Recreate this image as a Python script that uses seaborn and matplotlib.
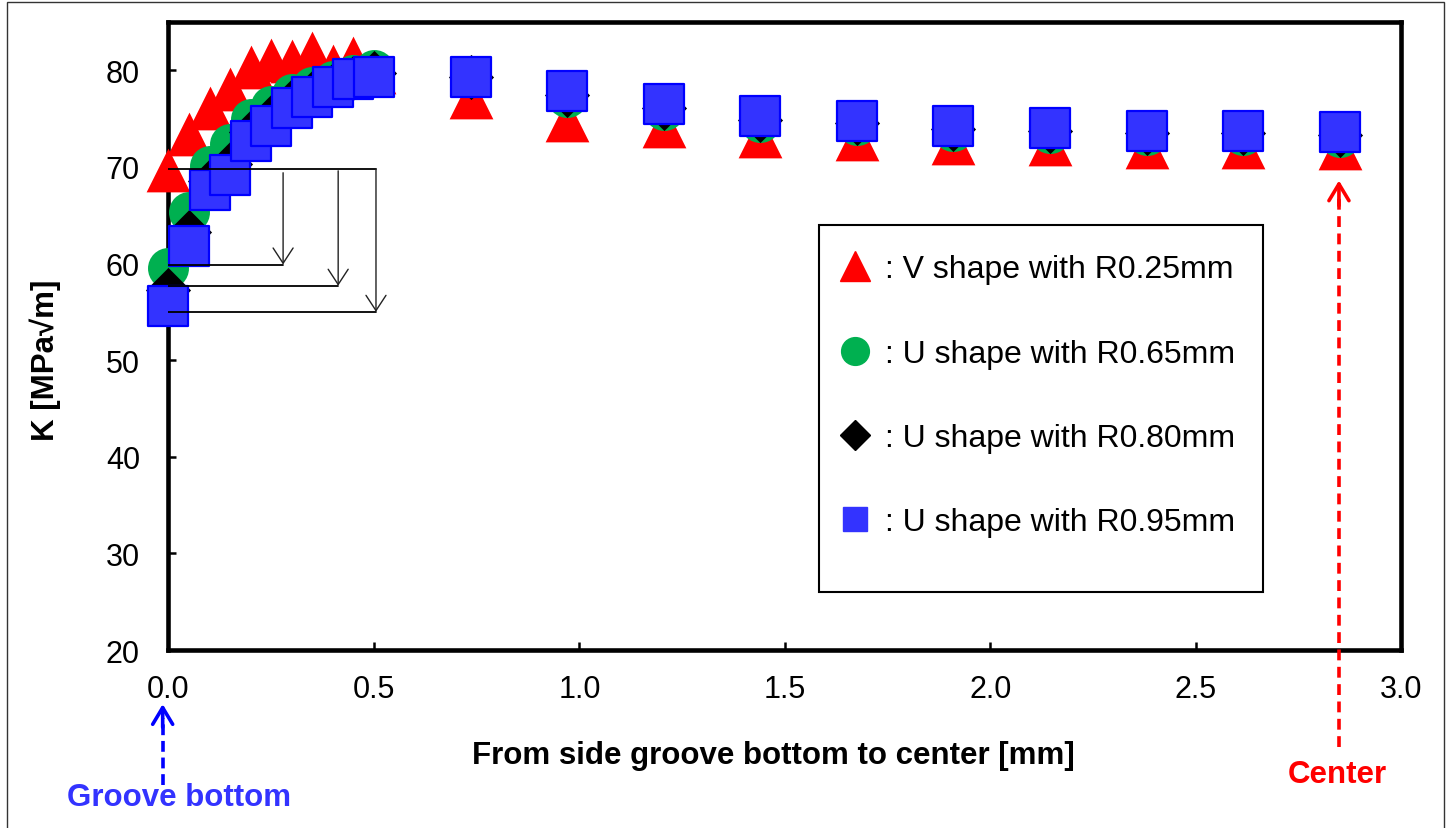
import numpy as np
import matplotlib
matplotlib.use("Agg")
import matplotlib.pyplot as plt
import seaborn as sns
from matplotlib.lines import Line2D
from matplotlib.patches import Rectangle

sns.set_theme(style="ticks", rc={
    "text.color": "black", "axes.labelcolor": "black",
    "xtick.color": "black", "ytick.color": "black",
    "axes.edgecolor": "black",
})
plt.rcParams["font.family"] = ["Liberation Sans", "DejaVu Sans"]

# distance from the side-groove bottom toward the specimen center [mm]
x_near = [0.00, 0.05, 0.10, 0.15, 0.20, 0.25, 0.30, 0.35, 0.40, 0.45, 0.50]
x_far = [0.735, 0.970, 1.205, 1.440, 1.675, 1.910, 2.145, 2.380, 2.615, 2.850]
distance = x_near + x_far

# stress intensity factor K [MPa*sqrt(m)] for each groove geometry
k_v025 = [69.7, 73.4, 76.1, 78.1, 80.3, 81.1, 81.0, 81.8, 80.5, 81.3, 79.8,
          77.2, 74.9, 74.2, 73.2, 72.9, 72.5, 72.35, 72.1, 72.1, 72.0]
k_u065 = [59.5, 65.3, 70.1, 72.4, 75.0, 76.3, 77.6, 78.3, 78.9, 79.5, 80.0,
          79.4, 77.2, 75.9, 74.7, 74.3, 73.7, 73.5, 73.3, 73.3, 73.1]
k_u080 = [57.3, 63.3, 68.5, 70.3, 73.6, 75.2, 76.8, 77.7, 78.5, 79.2, 79.7,
          79.3, 77.4, 76.1, 74.9, 74.5, 73.9, 73.7, 73.5, 73.5, 73.3]
k_u095 = [55.6, 61.8, 67.6, 69.2, 72.7, 74.2, 76.1, 77.2, 78.3, 79.1, 79.35,
          79.3, 77.9, 76.5, 75.3, 74.8, 74.25, 74.0, 73.7, 73.7, 73.65]

series_labels = [": V shape with R0.25mm", ": U shape with R0.65mm",
                 ": U shape with R0.80mm", ": U shape with R0.95mm"]

x_ticks = [0.0, 0.5, 1.0, 1.5, 2.0, 2.5, 3.0]
x_tick_labels = ["0.0", "0.5", "1.0", "1.5", "2.0", "2.5", "3.0"]
y_ticks = [20, 30, 40, 50, 60, 70, 80]
y_tick_labels = ["20", "30", "40", "50", "60", "70", "80"]

# reference levels at the groove bottom and the drop arrows
top_level = 69.8
drop_levels = [59.9, 57.7, 55.0]
drop_x = [0.279, 0.413, 0.505]
drop_start = [69.4, 69.6, 69.8]

fig = plt.figure(figsize=(14.47, 8.29), dpi=100)
ax = fig.add_axes([0.1164, 0.2147, 0.8521, 0.7575])

styles = [
    dict(marker="^", size=31.5, face="#FF0000", edge="#FF0000", lw=0.0, z=3),
    dict(marker="o", size=29.5, face="#00B050", edge="#00B050", lw=0.0, z=4),
    dict(marker="D", size=23, face="#000000", edge="#000000", lw=0.0, z=5),
    dict(marker="s", size=29, face="#3333FF", edge="#0000FF", lw=1.6, z=6),
]
values = [k_v025, k_u065, k_u080, k_u095]

for k, st in zip(values, styles):
    sns.scatterplot(x=distance, y=k, marker=st["marker"], s=st["size"] ** 2,
                    color=st["face"], edgecolor=st["edge"], linewidth=st["lw"],
                    zorder=st["z"], legend=False, clip_on=False, ax=ax)

ax.set_xlim(0, 3.0)
ax.set_ylim(20, 85)
ax.set_xticks(x_ticks)
ax.set_xticklabels(x_tick_labels)
ax.set_yticks(y_ticks)
ax.set_yticklabels(y_tick_labels)
ax.tick_params(direction="in", length=6, width=1.8, labelsize=22,
               top=False, right=False)
ax.tick_params(axis="x", pad=17.5)
ax.tick_params(axis="y", pad=20.5)
for sp in ax.spines.values():
    sp.set_linewidth(3.3)
    sp.set_color("black")

ax.set_xlabel("From side groove bottom to center [mm]", fontsize=22.5,
              fontweight="bold", va="center")
ax.xaxis.set_label_coords(0.491, -0.167)
ax.set_ylabel("K [MPa\u221am]", fontsize=22.5, fontweight="bold", va="center")
ax.yaxis.set_label_coords(-0.10, 0.463)

# reference lines and drop arrows near the groove bottom
ax.plot([0, drop_x[-1]], [top_level, top_level], color="black", lw=1.3, zorder=7)
for lvl, xe, ys in zip(drop_levels, drop_x, drop_start):
    ax.plot([0, xe], [lvl, lvl], color="black", lw=1.3, zorder=7)
    ax.annotate("", xy=(xe, lvl), xytext=(xe, ys), zorder=7,
                arrowprops=dict(arrowstyle="->,head_length=0.55,head_width=0.36",
                                color="#222222", lw=1.0, shrinkA=0, shrinkB=0,
                                mutation_scale=20))

# legend with its own frame
handles = [Line2D([], [], ls="none", marker="^", markersize=21, color="#FF0000"),
           Line2D([], [], ls="none", marker="o", markersize=20, color="#00B050"),
           Line2D([], [], ls="none", marker="D", markersize=15.5, color="#000000"),
           Line2D([], [], ls="none", marker="s", markersize=17.5, color="#3333FF")]
ax.add_patch(Rectangle((0.5276, 0.0924), 0.3601, 0.5844, transform=ax.transAxes,
                       facecolor="white", edgecolor="black", lw=1.5, zorder=1.5))
ax.legend(handles=handles, labels=series_labels, loc="upper left",
          bbox_to_anchor=(0.5444, 0.6300), frameon=False, fontsize=23,
          handlelength=0.96, handletextpad=0.45, labelspacing=1.7,
          borderpad=0, borderaxespad=0)

# groove bottom / center markers below the axis
gx = -0.014
ax.plot([gx, gx], [6.0, 13.0], color="#0000FF", lw=2.6, ls=(0, (3, 1.6)),
        clip_on=False)
ax.annotate("", xy=(gx, 14.4), xytext=(gx, 12.0), annotation_clip=False,
            arrowprops=dict(arrowstyle="->,head_length=0.6,head_width=0.36",
                            color="#0000FF", lw=2.6, shrinkA=0, shrinkB=0,
                            mutation_scale=20))
ax.text(0.026, 4.8, "Groove bottom", color="#3333FF", fontsize=22.5,
        fontweight="bold", ha="center", va="center")

cx = 2.848
ax.plot([cx, cx], [10.0, 67.0], color="#FF0000", lw=2.6, ls=(0, (3, 1.8)),
        clip_on=False, zorder=7)
ax.annotate("", xy=(cx, 68.6), xytext=(cx, 66.0), annotation_clip=False,
            arrowprops=dict(arrowstyle="->,head_length=0.6,head_width=0.36",
                            color="#FF0000", lw=2.6, shrinkA=0, shrinkB=0,
                            mutation_scale=20), zorder=7)
ax.text(2.845, 7.2, "Center", color="#FF0000", fontsize=22.5,
        fontweight="bold", ha="center", va="center")

# thin outer frame of the figure
fig.patches.append(Rectangle((7 / 1447, -0.01), (1444 - 7) / 1447, 1.0 - 3 / 829 + 0.01,
                             transform=fig.transFigure, fill=False,
                             edgecolor="#333333", lw=1.0))

fig.savefig("out.png", dpi=100)
